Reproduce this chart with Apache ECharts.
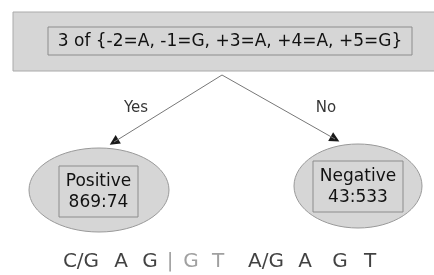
<!DOCTYPE html>
<html>
<head>
<meta charset="utf-8">
<script src="https://cdn.jsdelivr.net/npm/echarts@6/dist/echarts.min.js"></script>
<style>
  html, body { margin: 0; padding: 0; background: #fff; }
  #chart { width: 434px; height: 275px; }
</style>
</head>
<body>
<div id="chart"></div>
<script>
// tree content
const rootRule = '3 of {-2=A, -1=G, +3=A, +4=A, +5=G}'
const branchLabels = ['Yes', 'No']
const leafNames = ['Positive', 'Negative']
const leafCounts = ['869:74', '43:533']
const seqTokens = ['C/G', 'A', 'G', '|', 'G', 'T', 'A/G', 'A', 'G', 'T']
const seqIntron = [0, 0, 0, 1, 1, 1, 0, 0, 0, 0]

// layout (pixel-like coordinates of the hidden axes)
const rootOuter = [13, 12, 446, 71]
const rootInner = [48, 27, 412, 55]
const edgeStart = [222, 75]
const edgeEnds = [[114, 142], [335, 139]]
const branchPos = [[136, 108], [326, 108]]
const leafCenters = [[99, 190], [358, 186]]
const leafRadii = [[70, 42], [64, 42]]
const leafInner = [[59, 166, 138, 217], [313, 161, 403, 212]]
const seqX = [81, 121, 150, 170, 191, 218, 266, 305, 340, 370]
const seqY = 262

const FONT = '"DejaVu Sans", Verdana, sans-serif'
const chart = echarts.init(document.getElementById('chart'))

function rectFrom(api, b) {
  const p1 = api.coord([b[0], b[1]])
  const p2 = api.coord([b[2], b[3]])
  return { x: p1[0], y: p1[1], width: p2[0] - p1[0], height: p2[1] - p1[1] }
}

chart.setOption({
  animation: false,
  grid: { left: 0, right: 0, top: 0, bottom: 0 },
  xAxis: { type: 'value', min: 0, max: 434, show: false },
  yAxis: { type: 'value', min: 0, max: 275, inverse: true, show: false },
  series: [
    {
      // root decision box
      type: 'custom',
      data: [0],
      renderItem(params, api) {
        const outer = rectFrom(api, rootOuter)
        const inner = rectFrom(api, rootInner)
        return {
          type: 'group',
          children: [
            { type: 'rect', shape: outer, style: { fill: '#d6d6d6', stroke: '#aaaaaa', lineWidth: 1 } },
            { type: 'rect', shape: inner, style: { fill: '#d6d6d6', stroke: '#8c8c8c', lineWidth: 1 } },
            {
              type: 'text',
              style: {
                text: rootRule, x: inner.x + inner.width / 2, y: inner.y + inner.height / 2 + 1,
                align: 'center', verticalAlign: 'middle', fill: '#111', font: '17px ' + FONT
              }
            }
          ]
        }
      }
    },
    {
      // leaves
      type: 'custom',
      data: leafNames.map((n, i) => i),
      renderItem(params, api) {
        const i = params.dataIndex
        const c = api.coord(leafCenters[i])
        const r = api.size(leafRadii[i])
        const inner = rectFrom(api, leafInner[i])
        const cx = inner.x + inner.width / 2
        const cy = inner.y + inner.height / 2
        return {
          type: 'group',
          children: [
            { type: 'ellipse', shape: { cx: c[0], cy: c[1], rx: r[0], ry: r[1] }, style: { fill: '#d6d6d6', stroke: '#999999', lineWidth: 1 } },
            { type: 'rect', shape: inner, style: { fill: '#d6d6d6', stroke: '#8c8c8c', lineWidth: 1 } },
            { type: 'text', style: { text: leafNames[i], x: cx, y: cy - 10, align: 'center', verticalAlign: 'middle', fill: '#111', font: '17px ' + FONT } },
            { type: 'text', style: { text: leafCounts[i], x: cx, y: cy + 11, align: 'center', verticalAlign: 'middle', fill: '#111', font: '17px ' + FONT } }
          ]
        }
      }
    },
    {
      // arrowheads (dark)
      type: 'lines',
      coordinateSystem: 'cartesian2d',
      symbol: ['none', 'triangle'],
      symbolSize: 10,
      lineStyle: { color: '#1a1a1a', width: 0, opacity: 1 },
      data: edgeEnds.map(e => ({ coords: [edgeStart, e] }))
    },
    {
      // branches
      type: 'lines',
      coordinateSystem: 'cartesian2d',
      symbol: 'none',
      lineStyle: { color: '#777', width: 1, opacity: 1 },
      data: edgeEnds.map(e => ({ coords: [edgeStart, e] }))
    },
    {
      // branch labels
      type: 'scatter',
      symbolSize: 0,
      label: { show: true, position: 'inside', formatter: p => branchLabels[p.dataIndex], color: '#000', fontSize: 15, fontFamily: FONT },
      data: branchPos
    },
    {
      // splice-site consensus
      type: 'scatter',
      symbolSize: 0,
      label: {
        show: true, position: 'inside', fontSize: 20, fontFamily: FONT,
        formatter: p => seqTokens[p.dataIndex]
      },
      data: seqX.map((x, i) => ({
        value: [x, seqY],
        label: { color: seqIntron[i] ? '#888888' : '#111111' }
      }))
    }
  ]
})
</script>
</body>
</html>
